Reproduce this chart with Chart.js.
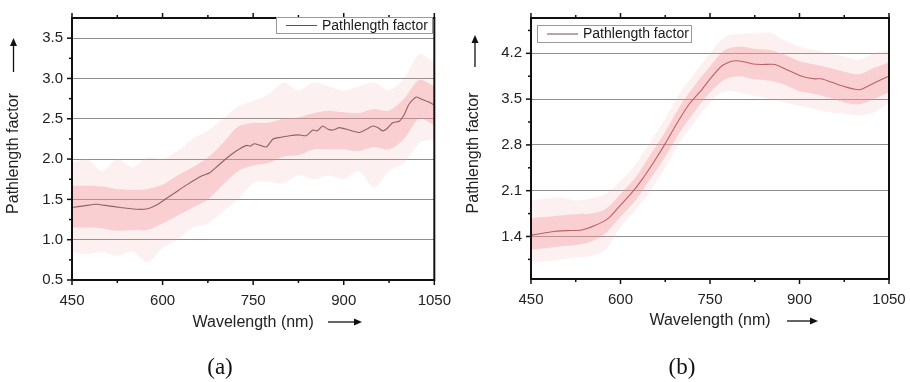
<!DOCTYPE html>
<html><head><meta charset="utf-8">
<script src="https://cdn.jsdelivr.net/npm/chart.js@4.4.0/dist/chart.umd.min.js"></script>
<style>
html,body{margin:0;padding:0;background:#fff;width:910px;height:382px;overflow:hidden}
canvas{position:absolute;top:0}
#ca{left:0}
#cb{left:455px}
.lab{position:absolute;font-family:'Liberation Serif','DejaVu Serif',serif;font-size:23px;line-height:23px;color:#111;transform:translate(-50%,-50%);top:366px;white-space:nowrap}
</style></head><body>
<canvas id="ca" width="455" height="382"></canvas>
<canvas id="cb" width="455" height="382"></canvas>
<div class="lab" style="left:220px">(a)</div>
<div class="lab" style="left:682px">(b)</div>
<script>
// ---------- data ----------
const seriesLabel = 'Pathlength factor';
const xTitle = 'Wavelength (nm)';
const yTitle = 'Pathlength factor';
const xMinorTicks = [525, 675, 825, 975];
const aYMinorTicks = [0.75, 1.25, 1.75, 2.25, 2.75, 3.25];
const bYMinorTicks = [1.05, 1.75, 2.45, 3.15, 3.85, 4.55];

// panel (a) smoothed curve
const aLineX = [450,470,490,510,530,551,573,590,606,620,640,662,678,692,706,722,739,745,752,762,772,783,796,810,825,838,849,856,865,874,882,893,909,926,940,948,957,964,972,981,992,1000,1008,1020,1030,1040,1050];
const aLineY = [1.40,1.42,1.44,1.42,1.40,1.38,1.38,1.43,1.51,1.58,1.68,1.78,1.83,1.92,2.01,2.10,2.17,2.16,2.19,2.17,2.15,2.25,2.27,2.29,2.30,2.29,2.36,2.35,2.41,2.37,2.36,2.39,2.36,2.33,2.38,2.41,2.39,2.35,2.38,2.45,2.47,2.55,2.68,2.77,2.74,2.71,2.67];

// raw (noisy) measurement envelope, sampled every 25 nm
const bandX = [450,475,500,525,550,575,600,625,650,675,700,725,750,775,800,825,850,875,900,925,950,975,1000,1025,1050];
const aOuterHi = [1.95,2.00,1.85,2.00,1.90,2.02,2.00,2.10,2.25,2.35,2.50,2.65,2.72,2.80,2.95,2.85,2.95,2.90,2.85,2.90,2.95,2.85,3.00,3.30,3.20];
const aOuterLo = [0.85,0.82,0.85,0.80,0.85,0.72,0.90,1.00,1.15,1.20,1.35,1.50,1.70,1.72,1.70,1.80,1.75,1.80,1.75,1.85,1.65,1.85,1.95,2.20,2.25];
const aCoreHi  = [1.67,1.67,1.66,1.63,1.62,1.63,1.68,1.80,1.90,2.02,2.20,2.40,2.45,2.45,2.50,2.52,2.57,2.60,2.58,2.57,2.62,2.60,2.75,2.98,2.90];
const aCoreLo  = [1.15,1.15,1.14,1.11,1.12,1.12,1.20,1.30,1.40,1.50,1.68,1.85,1.92,1.95,2.03,2.05,2.12,2.12,2.12,2.10,2.15,2.12,2.25,2.50,2.42];

// panel (b) smoothed curve
const bLineX = [450,470,491,510,535,558,580,597,619,636,658,675,692,714,736,753,770,786,803,820,837,859,881,904,926,937,965,993,1004,1026,1050];
const bLineY = [1.42,1.45,1.48,1.49,1.50,1.57,1.68,1.85,2.07,2.27,2.57,2.82,3.09,3.41,3.64,3.84,4.01,4.08,4.08,4.04,4.03,4.03,3.94,3.85,3.81,3.81,3.72,3.65,3.65,3.75,3.85];
const bOuterHi = [1.95,1.98,2.00,1.95,1.98,2.05,2.25,2.50,2.85,3.20,3.60,3.90,4.20,4.45,4.50,4.50,4.52,4.40,4.30,4.25,4.20,4.15,4.10,4.20,4.25];
const bOuterLo = [1.00,1.02,1.05,1.08,1.10,1.20,1.55,1.80,2.10,2.45,2.85,3.15,3.45,3.62,3.60,3.55,3.50,3.45,3.40,3.35,3.30,3.28,3.25,3.30,3.45];
const bCoreHi  = [1.68,1.70,1.72,1.74,1.75,1.82,2.05,2.30,2.65,3.00,3.40,3.72,4.00,4.25,4.30,4.27,4.25,4.18,4.08,4.03,3.98,3.92,3.88,3.98,4.06];
const bCoreLo  = [1.20,1.22,1.25,1.27,1.32,1.45,1.70,1.95,2.28,2.62,3.00,3.32,3.60,3.80,3.85,3.80,3.78,3.72,3.62,3.58,3.52,3.45,3.42,3.50,3.60];

// ---------- helpers ----------
const pts = (xs, ys) => xs.map((x, i) => ({x, y: ys[i]}));
const FONT = "'Liberation Sans', Arial, sans-serif";

function bandSet(lo, hi, color) {
  return [
    {data: pts(bandX, lo), borderColor: 'transparent', borderWidth: 0, pointRadius: 0, fill: false, tension: 0.3},
    {data: pts(bandX, hi), borderColor: 'transparent', borderWidth: 0, pointRadius: 0, fill: '-1', backgroundColor: color, tension: 0.3}
  ];
}

function decorPlugin(c) {
  return {
    id: 'decor',
    afterDatasetsDraw(chart) {
      const {ctx, chartArea: a, scales: {x, y}} = chart;
      ctx.save();
      ctx.strokeStyle = '#111';
      ctx.lineWidth = 1.5;
      const seg = (x0, y0, x1, y1) => { ctx.beginPath(); ctx.moveTo(x0, y0); ctx.lineTo(x1, y1); ctx.stroke(); };
      x.ticks.forEach(t => { const p = x.getPixelForValue(t.value); seg(p, a.bottom, p, a.bottom + 5); seg(p, a.top, p, a.top - 5); });
      xMinorTicks.forEach(v => { const p = x.getPixelForValue(v); seg(p, a.bottom, p, a.bottom + 3); seg(p, a.top, p, a.top - 3); });
      y.ticks.forEach(t => { const p = y.getPixelForValue(t.value); seg(a.left - 5, p, a.left, p); });
      c.yMinor.forEach(v => { const p = y.getPixelForValue(v); seg(a.left - 3, p, a.left, p); });
      ctx.lineWidth = 2;
      ctx.strokeRect(a.left, a.top, a.right - a.left, a.bottom - a.top);
      // legend
      const L = c.legend;
      ctx.fillStyle = '#fff';
      ctx.fillRect(L.x, L.y, L.w, L.h);
      ctx.lineWidth = 1;
      ctx.strokeStyle = '#9a9a9a';
      ctx.strokeRect(L.x + 0.5, L.y + 0.5, L.w, L.h);
      ctx.strokeStyle = c.legendLine;
      seg(L.x + 10, L.y + L.h / 2 + 0.5, L.x + 41, L.y + L.h / 2 + 0.5);
      ctx.fillStyle = '#1a1a1a';
      ctx.font = "14px " + FONT;
      ctx.textBaseline = 'middle';
      ctx.textAlign = 'left';
      ctx.fillText(seriesLabel, L.x + 46, L.y + L.h / 2 + 1);
      // arrows
      ctx.strokeStyle = '#111';
      ctx.fillStyle = '#111';
      ctx.lineWidth = 1.3;
      const ya = c.yArrow;
      seg(ya.x, ya.y0, ya.x, ya.y1 + 6);
      ctx.beginPath(); ctx.moveTo(ya.x, ya.y1); ctx.lineTo(ya.x - 3.5, ya.y1 + 8); ctx.lineTo(ya.x + 3.5, ya.y1 + 8); ctx.closePath(); ctx.fill();
      const xa = c.xArrow;
      seg(xa.x0, xa.y, xa.x1 - 6, xa.y);
      ctx.beginPath(); ctx.moveTo(xa.x1, xa.y); ctx.lineTo(xa.x1 - 8, xa.y - 3.5); ctx.lineTo(xa.x1 - 8, xa.y + 3.5); ctx.closePath(); ctx.fill();
      ctx.restore();
    }
  };
}

function makeChart(id, c) {
  return new Chart(document.getElementById(id), {
    type: 'line',
    data: {
      datasets: [
        ...bandSet(c.outerLo, c.outerHi, 'rgba(244,160,168,0.16)'),
        ...bandSet(c.coreLo, c.coreHi, 'rgba(242,140,150,0.34)'),
        {label: seriesLabel, data: pts(c.lineX, c.lineY), borderColor: c.lineColor, borderWidth: 1.1, pointRadius: 0, fill: false, tension: 0.2}
      ]
    },
    options: {
      responsive: false,
      animation: false,
      devicePixelRatio: 1,
      layout: {padding: c.padding},
      plugins: {legend: {display: false}, tooltip: {enabled: false}},
      scales: {
        x: {
          type: 'linear', min: 450, max: 1050,
          afterFit: s => { s.height = 52; },
          ticks: {stepSize: 150, autoSkip: false, maxRotation: 0, padding: 4, color: '#222', font: {family: FONT, size: 15}, callback: v => String(v)},
          grid: {display: false},
          border: {display: false},
          title: {display: true, text: xTitle, color: '#222', font: {family: FONT, size: 16}, padding: {top: 0, bottom: c.xTitlePad}}
        },
        y: {
          type: 'linear', min: c.yMin, max: c.yMax,
          afterFit: s => { s.width = c.yWidth; },
          ticks: {stepSize: c.yStep, includeBounds: false, padding: 9, color: '#222', font: {family: FONT, size: 15}, callback: v => Number(v).toFixed(1)},
          grid: {display: true, drawTicks: false, color: '#8e8e8e', lineWidth: 1},
          border: {display: false},
          title: {display: true, text: yTitle + '  ', color: '#222', font: {family: FONT, size: 16}, padding: {top: c.yTitlePad, bottom: 0}}
        }
      }
    },
    plugins: [decorPlugin(c)]
  });
}

makeChart('ca', {
  lineX: aLineX, lineY: aLineY, outerHi: aOuterHi, outerLo: aOuterLo, coreHi: aCoreHi, coreLo: aCoreLo,
  lineColor: '#4e3636', legendLine: '#555',
  padding: {left: 0, right: 20, top: 10, bottom: 50},
  yMin: 0.5, yMax: 3.75, yStep: 0.5, yWidth: 72, yMinor: aYMinorTicks,
  xTitlePad: 0, yTitlePad: 4.4,
  legend: {x: 276, y: 17, w: 156, h: 16},
  yArrow: {x: 13.5, y0: 72, y1: 38},
  xArrow: {x0: 328, x1: 362, y: 322}
});

makeChart('cb', {
  lineX: bLineX, lineY: bLineY, outerHi: bOuterHi, outerLo: bOuterLo, coreHi: bCoreHi, coreLo: bCoreLo,
  lineColor: '#8a3a3a', legendLine: '#7a4a4a',
  padding: {left: 0, right: 21, top: 12, bottom: 51},
  yMin: 0.75, yMax: 4.74, yStep: 0.7, yWidth: 76, yMinor: bYMinorTicks,
  xTitlePad: 0.7, yTitlePad: 8.7,
  legend: {x: 82, y: 25, w: 154, h: 17},
  yArrow: {x: 20, y0: 67, y1: 35},
  xArrow: {x0: 332, x1: 363, y: 321}
});
</script>
</body></html>
